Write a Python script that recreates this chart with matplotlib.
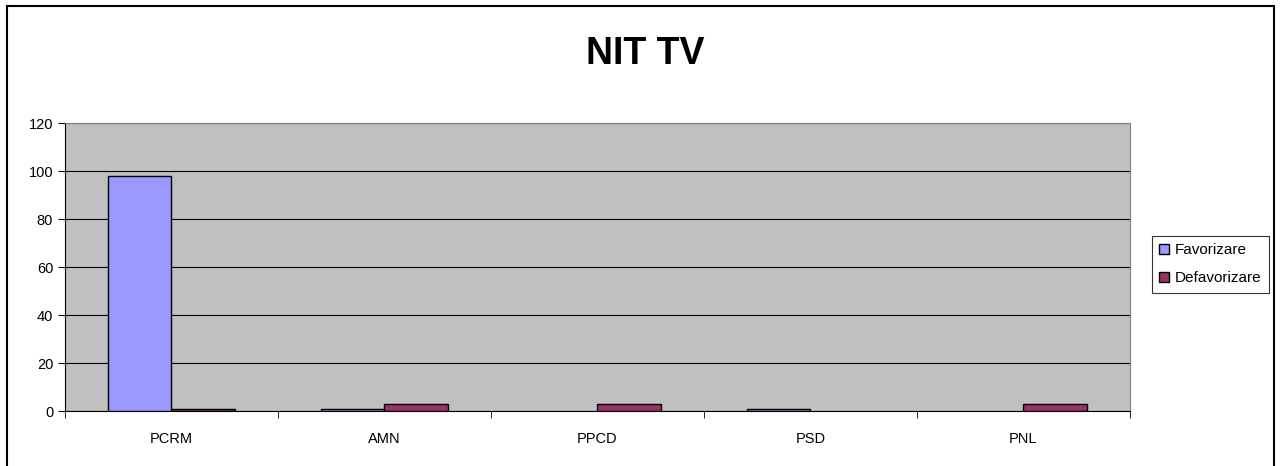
import numpy as np
import matplotlib.pyplot as plt
from matplotlib.patches import Rectangle

# data
categories = ['PCRM', 'AMN', 'PPCD', 'PSD', 'PNL']
favorizare = [98, 1, 0, 1, 0]
defavorizare = [1, 3, 3, 0, 3]

plt.rcParams['font.family'] = ['Liberation Sans', 'DejaVu Sans']

fig = plt.figure(figsize=(12.82, 4.66), dpi=100)
ax = fig.add_axes([0.0507, 0.118, 0.8307, 0.618])

x = np.arange(len(categories))
w = 0.296
# zero values get no outline, like the original chart
lw_fav = [1 if v else 0 for v in favorizare]
lw_def = [1 if v else 0 for v in defavorizare]
ax.bar(x - w / 2, favorizare, w, color='#9999FF', edgecolor='black', linewidth=lw_fav, label='Favorizare', zorder=3)
ax.bar(x + w / 2, defavorizare, w, color='#993366', edgecolor='black', linewidth=lw_def, label='Defavorizare', zorder=3)

ax.set_facecolor('#C0C0C0')
ax.set_xlim(-0.5, len(categories) - 0.5)
ax.set_ylim(0, 120)
ax.set_yticks(range(0, 121, 20))
ax.yaxis.grid(True, color='black', linewidth=0.8, zorder=1)
ax.set_axisbelow(True)

ax.set_xticks(x)
ax.set_xticklabels(categories, fontsize=10.5)
ax.tick_params(axis='x', length=0, pad=15)
ax.set_xticks(np.arange(-0.5, len(categories)), minor=True)
ax.tick_params(axis='x', which='minor', length=5, direction='out', color='black')
ax.tick_params(axis='y', labelsize=10.5, length=5, direction='out')

for s in ['top', 'right']:
    ax.spines[s].set_color('#808080')
for s in ['left', 'bottom']:
    ax.spines[s].set_color('black')

fig.text(0.503, 0.885, 'NIT TV', ha='center', va='center', fontsize=27, fontweight='bold')

leg = fig.legend(loc='center left', bbox_to_anchor=(0.8925, 0.433), fontsize=11,
                 frameon=True, fancybox=False, edgecolor='black', handlelength=0.65,
                 handleheight=0.65, handletextpad=0.35, borderpad=0.5, labelspacing=0.9)
leg.get_frame().set_linewidth(0.8)

# outer chart border (bottom edge runs off the picture)
fig.patches.append(Rectangle((0.0055, -0.02), 0.9883, 1.007, transform=fig.transFigure,
                             fill=False, edgecolor='black', linewidth=1.5))

fig.savefig('out.png', dpi=100)
